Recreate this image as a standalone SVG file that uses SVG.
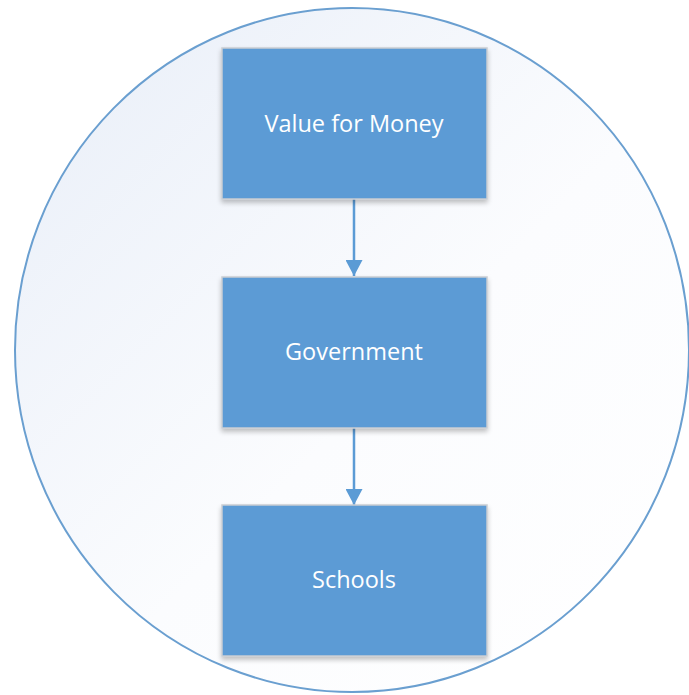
<svg xmlns="http://www.w3.org/2000/svg" width="689" height="695" viewBox="0 0 689 695">
<defs>
<linearGradient id="bg" x1="0" y1="0" x2="1" y2="1">
<stop offset="0" stop-color="#E8EEF8"/>
<stop offset="0.55" stop-color="#FBFCFE"/>
<stop offset="1" stop-color="#FFFFFF"/>
</linearGradient>
<filter id="sh" x="-10%" y="-10%" width="120%" height="125%">
<feGaussianBlur in="SourceAlpha" stdDeviation="2.5"/>
<feOffset dy="3"/>
<feComponentTransfer><feFuncA type="linear" slope="0.25"/></feComponentTransfer>
<feMerge><feMergeNode/><feMergeNode in="SourceGraphic"/></feMerge>
</filter>
<marker id="arr" markerWidth="16" markerHeight="17" refX="16" refY="8.5" orient="auto" markerUnits="userSpaceOnUse">
<path d="M0,0 L16,8.5 L0,17 Z" fill="#5B9BD5"/>
</marker>
<style>
.box{fill:#5B9BD5;stroke:#C9CDD2;stroke-width:1.5;filter:url(#sh)}
.lbl{fill:#FFFFFF;font-family:"Open Sans","Noto Sans","DejaVu Sans",sans-serif;font-size:23.5px;text-anchor:middle;dominant-baseline:central}
.con{stroke:#5B9BD5;stroke-width:2.5;fill:none}
</style>
</defs>
<rect width="689" height="695" fill="#FFFFFF"/>
<ellipse id="frame" cx="352" cy="350" rx="337" ry="342" fill="url(#bg)" stroke="#6A9FD0" stroke-width="2"/>
<g id="connectors">
<line class="con" x1="354" y1="199" x2="354" y2="276" marker-end="url(#arr)"/>
<line class="con" x1="354" y1="428" x2="354" y2="505" marker-end="url(#arr)"/>
</g>
<g id="node-value">
<rect class="box" x="222" y="48" width="265" height="151"/>
<text class="lbl" x="354" y="123">Value for Money</text>
</g>
<g id="node-government">
<rect class="box" x="222" y="277" width="265" height="151"/>
<text class="lbl" x="354" y="351">Government</text>
</g>
<g id="node-schools">
<rect class="box" x="222" y="505" width="265" height="151"/>
<text class="lbl" x="354" y="579">Schools</text>
</g>
</svg>
